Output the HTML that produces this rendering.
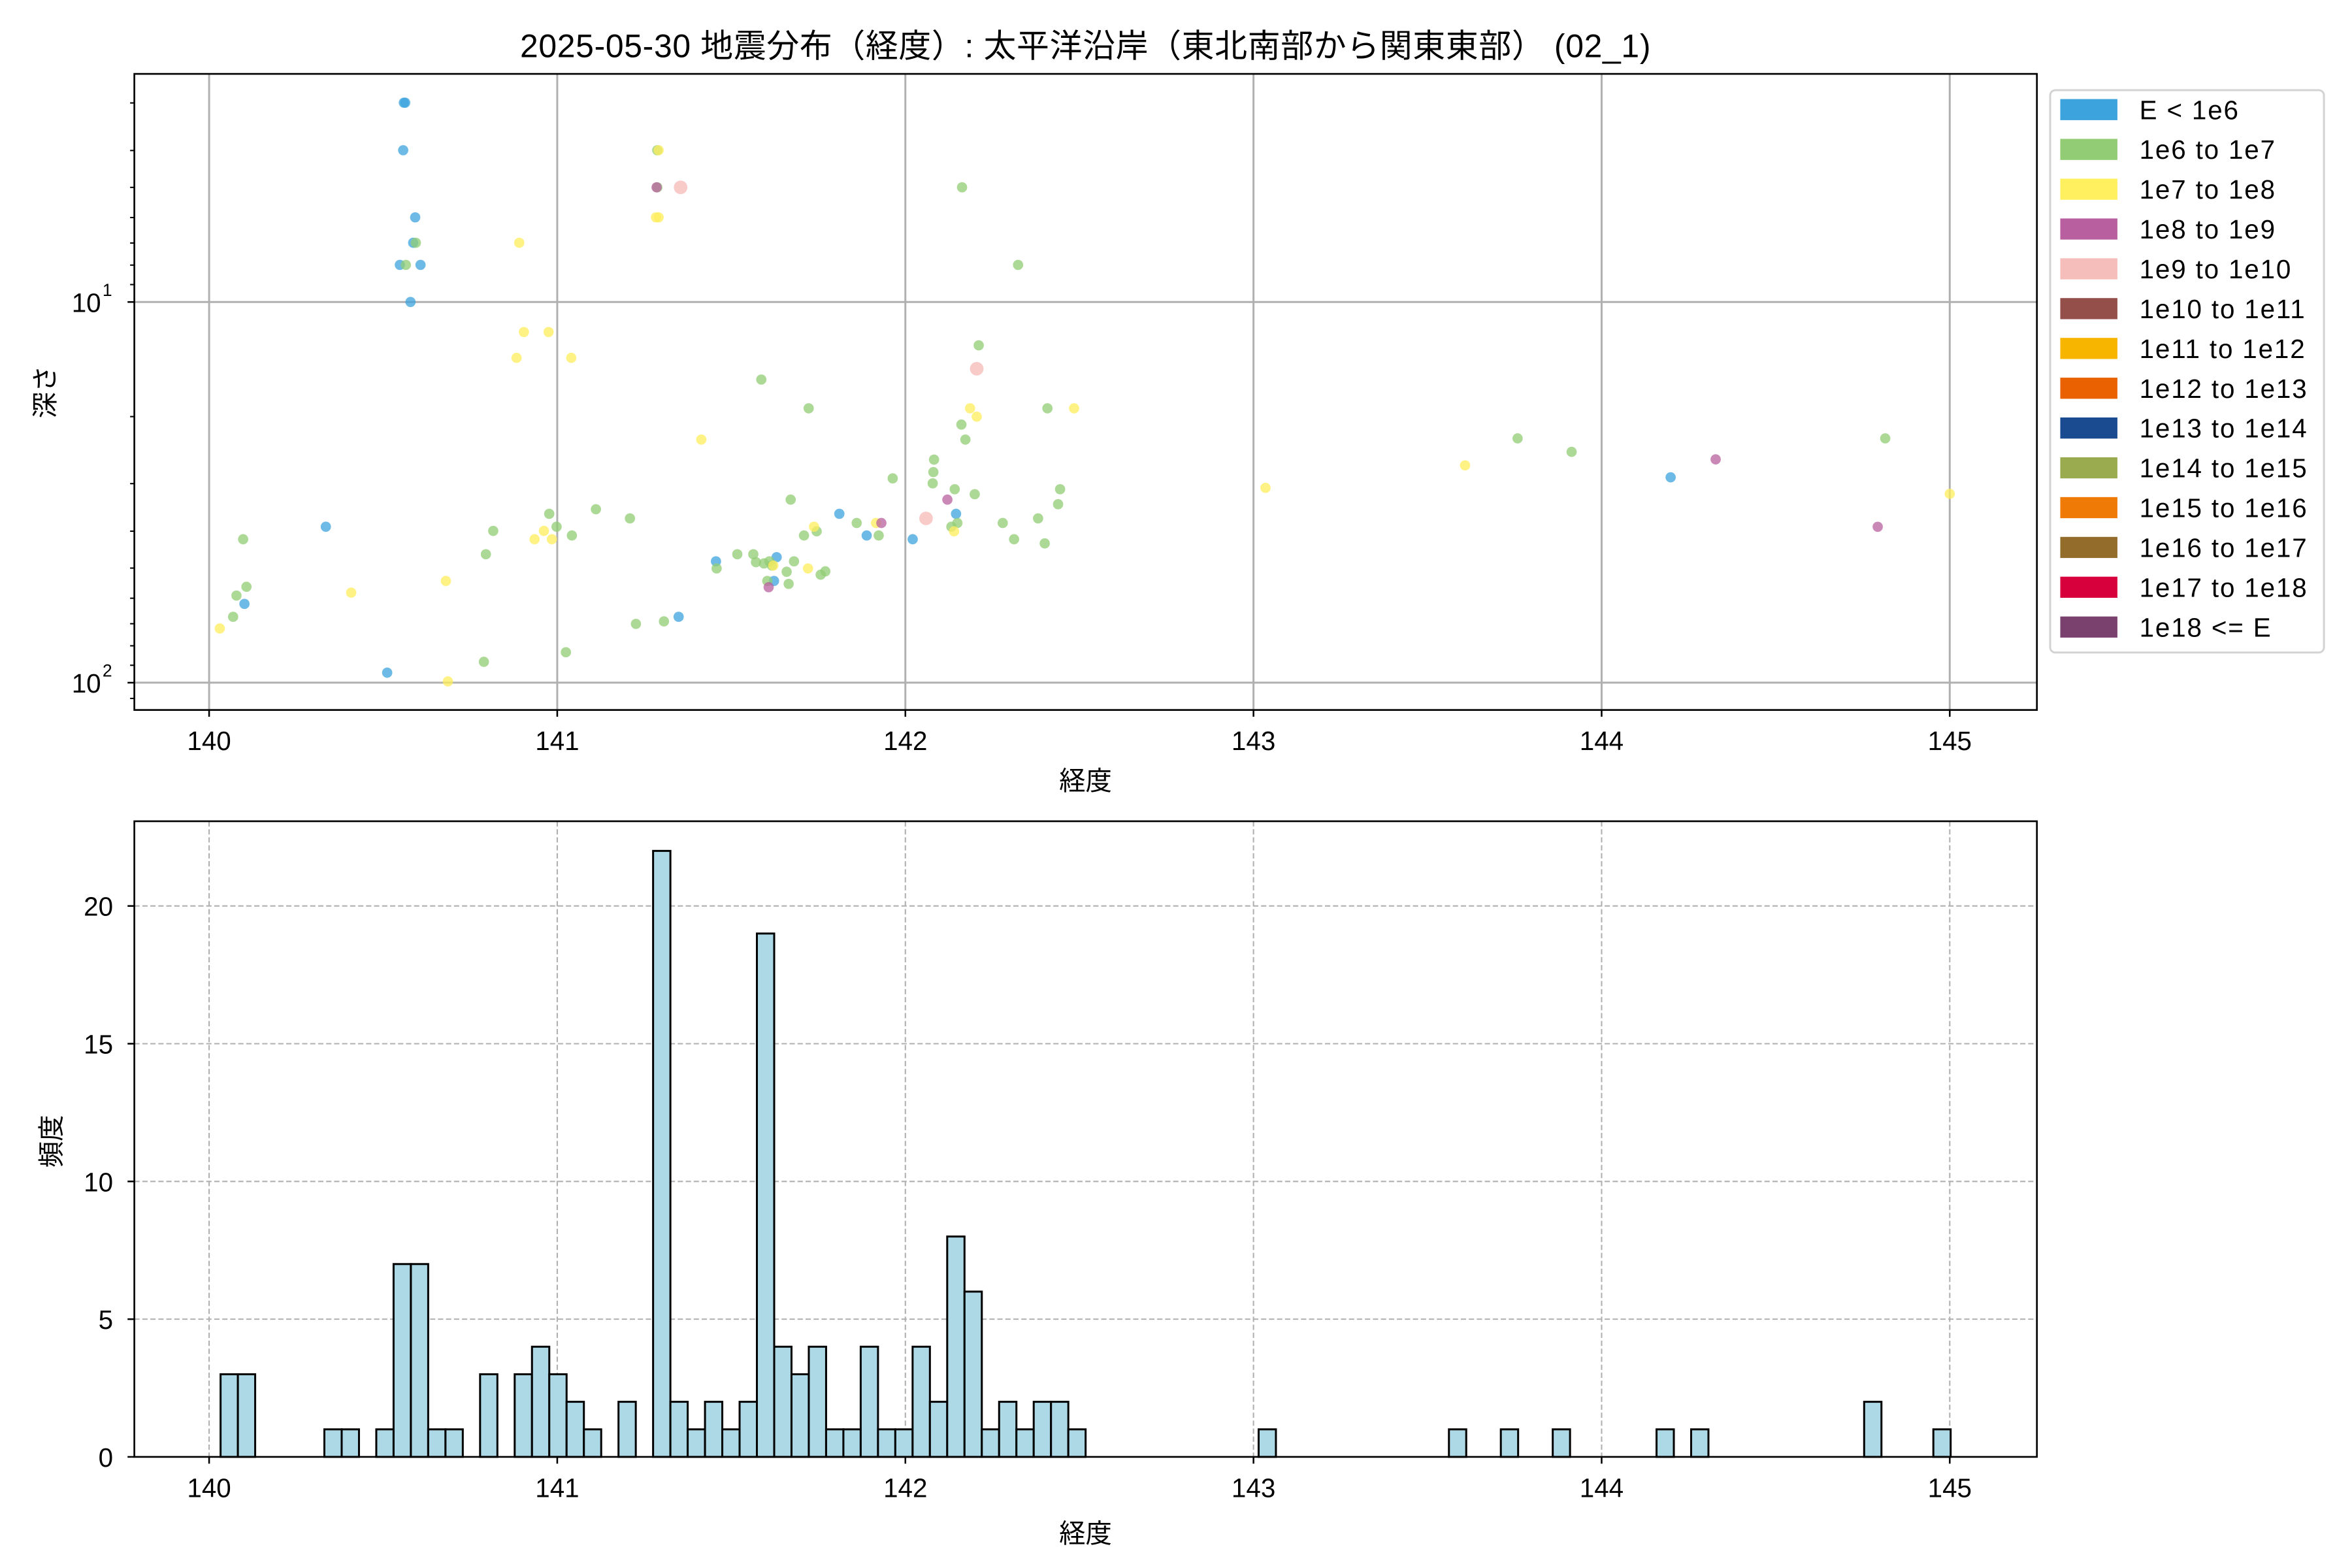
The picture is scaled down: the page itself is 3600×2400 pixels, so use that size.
<!DOCTYPE html>
<html><head><meta charset="utf-8"><style>
html,body{margin:0;padding:0;background:#fff}
svg{display:block}
text{font-family:"Liberation Sans","Noto Sans CJK JP",sans-serif;fill:#000}
</style></head><body>
<svg id="s" xmlns="http://www.w3.org/2000/svg" width="3600" height="2400" viewBox="0 0 1560 1040">
<rect width="1560" height="1040" fill="#fff"/>
<text x="720" y="38" font-size="21.6" text-anchor="middle" letter-spacing="0.3">2025-05-30 地震分布（経度）: 太平洋沿岸（東北南部から関東東部） (02_1)</text>
<g id="top"></g>
<g id="pts"></g>
<g id="bot"></g>
<g id="leg"></g>
</svg>
<script>
const NS="http://www.w3.org/2000/svg";
function el(p,t,a,txt){const e=document.createElementNS(NS,t);for(const k in a)e.setAttribute(k,a[k]);if(txt!==undefined)e.textContent=txt;document.getElementById(p).appendChild(e);return e;}
const X0=138.7,PX=230.9;
const L=89.1,R=1351,T1=49,B1=470.9;
const FS=17.5;
for(let i=0;i<=5;i++){const x=X0+PX*i;el("top","line",{x1:x,x2:x,y1:T1,y2:B1,stroke:"#b0b0b0","stroke-width":1.3});
 el("top","line",{x1:x,x2:x,y1:B1,y2:B1+4.5,stroke:"#000","stroke-width":1.1});
 el("top","text",{x:x,y:497.5,"font-size":FS,"text-anchor":"middle"},String(140+i));}
const D10=200.3,DEC=252.5;
function yd(d){return D10+DEC*Math.log10(d/10);}
[10,100].forEach(d=>{const y=yd(d);el("top","line",{x1:L,x2:R,y1:y,y2:y,stroke:"#b0b0b0","stroke-width":1.3});
 el("top","line",{x1:L-4.5,x2:L,y1:y,y2:y,stroke:"#000","stroke-width":1.1});});
el("top","text",{x:67,y:yd(10)+6.6,"font-size":FS,"text-anchor":"end"},"10");el("top","text",{x:68,y:yd(10)-4,"font-size":11.5},"1");
el("top","text",{x:67,y:yd(100)+6.6,"font-size":FS,"text-anchor":"end"},"10");el("top","text",{x:68,y:yd(100)-4,"font-size":11.5},"2");
[3,4,5,6,7,8,9,20,30,40,50,60,70,80,90,110].forEach(d=>{const y=yd(d);if(y>T1&&y<B1)el("top","line",{x1:L-2.8,x2:L,y1:y,y2:y,stroke:"#000","stroke-width":0.9});});
el("top","rect",{x:L,y:T1,width:R-L,height:B1-T1,fill:"none",stroke:"#000","stroke-width":1.15});
el("top","text",{x:720,y:524,"font-size":FS,"text-anchor":"middle"},"経度");
el("top","text",{x:36,y:260,"font-size":FS,"text-anchor":"middle",transform:"rotate(-90 36 260)"},"深さ");
// points
const C={B:"#3ca3dd",G:"#92cc74",Y:"#ffee5c",P:"#b8609f",K:"#f5b8b5"};
const Z={B:[[410,90],[412,90],[409,204],[427,365],[424,426],[404,479],[435,479],[420,568],[293,1107],[171,1292],[385,1457],[822,1323],[878,1190],[969,1180],[965,1237],[1063,1076],[1104,1128],[1173,1137],[1238,1076]],
G:[[790,204],[790,293],[1247,293],[428,426],[413,479],[1331,479],[1272,672],[946,754],[1017,823],[1375,823],[1246,862],[1252,898],[1205,946],[1204,976],[1143,991],[1203,1003],[1236,1017],[1266,1029],[1394,1017],[990,1042],[628,1076],[698,1065],[749,1087],[639,1107],[544,1117],[662,1128],[169,1137],[1089,1098],[1029,1118],[1010,1128],[1122,1128],[1240,1098],[1231,1107],[1308,1098],[1361,1087],[1391,1053],[1325,1137],[1371,1147],[533,1173],[910,1173],[934,1173],[938,1192],[950,1195],[958,1190],[962,1200],[995,1190],[879,1207],[984,1215],[1042,1214],[1035,1222],[955,1237],[987,1244],[174,1251],[159,1272],[154,1323],[758,1340],[800,1334],[653,1408],[530,1431]],
Y:[[792,204],[792,365],[788,365],[583,426],[590,640],[627,640],[579,702],[661,702],[856,898],[1259,823],[1269,843],[1415,823],[1025,1107],[1118,1098],[1235,1118],[620,1117],[606,1137],[632,1137],[964,1200],[1016,1207],[473,1237],[331,1265],[134,1351],[476,1478]],
P:[[1225,1042],[1126,1098],[957,1252],[789,293]],
K:[[825,293],[1269,728],[1193,1087]]};
["B","G","Y","K","P"].forEach(k=>Z[k].forEach(p=>{const x=X0+(p[0]-118)*PX/522,y=D10+(p[1]-568)*DEC/913;
 el("pts","circle",{cx:x,cy:y,r:k=="K"?4.5:3.4,fill:C[k],"fill-opacity":0.75});}));
[[843,325,"Y"],[976,310,"Y"],[1011,292,"G"],[1047,301,"G"],[1113,318,"B"],[1143,306,"P"],[1251,351,"P"],[1256,292,"G"],[1299,329,"Y"]].forEach(p=>{
 const x=X0+PX*(p[0]-139)/232,y=D10+DEC*(p[1]-201)/254;
 el("pts","circle",{cx:x,cy:y,r:3.4,fill:C[p[2]],"fill-opacity":0.75});});
// bottom hist
const T2=544.7,B2=966.3,UY=18.27;
for(let i=0;i<=5;i++){const x=X0+PX*i;el("bot","line",{x1:x,x2:x,y1:T2,y2:B2,stroke:"#b0b0b0","stroke-width":0.9,"stroke-dasharray":"3.5,1.8"});
 el("bot","line",{x1:x,x2:x,y1:B2,y2:B2+4.5,stroke:"#000","stroke-width":1.1});
 el("bot","text",{x:x,y:993,"font-size":FS,"text-anchor":"middle"},String(140+i));}
for(let v=0;v<=20;v+=5){const y=B2-UY*v;el("bot","line",{x1:L,x2:R,y1:y,y2:y,stroke:"#b0b0b0","stroke-width":0.9,"stroke-dasharray":"3.5,1.8"});
 el("bot","line",{x1:L-4.5,x2:L,y1:y,y2:y,stroke:"#000","stroke-width":1.1});
 el("bot","text",{x:75,y:y+6.5,"font-size":FS,"text-anchor":"end"},String(v));}
const H={0:3,1:3,6:1,7:1,9:1,10:7,11:7,12:1,13:1,15:3,17:3,18:4,19:3,20:2,21:1,23:2,25:22,26:2,27:1,28:2,29:1,30:2,31:19,32:4,33:3,34:4,35:1,36:1,37:4,38:1,39:1,40:4,41:2,42:8,43:6,44:1,45:2,46:1,47:2,48:2,49:1,60:1,71:1,74:1,77:1,83:1,85:1,95:2,99:1};
const BW=11.475,BX=146.3;
for(const k in H){const x=BX+BW*k,h=H[k]*UY;el("bot","rect",{x:x,y:B2-h,width:BW,height:h,fill:"#add8e6",stroke:"#000","stroke-width":1.3});}
el("bot","rect",{x:L,y:T2,width:R-L,height:B2-T2,fill:"none",stroke:"#000","stroke-width":1.15});
el("bot","text",{x:720,y:1023,"font-size":FS,"text-anchor":"middle"},"経度");
el("bot","text",{x:40,y:757,"font-size":FS,"text-anchor":"middle",transform:"rotate(-90 40 757)"},"頻度");
// legend
el("leg","rect",{x:1359.8,y:59.8,width:181.6,height:373,rx:3.5,fill:"#fff",stroke:"#d3d3d3","stroke-width":1.3});
const LG=[["E < 1e6","#3ca3dd"],["1e6 to 1e7","#92cc74"],["1e7 to 1e8","#fff060"],["1e8 to 1e9","#b8609f"],["1e9 to 1e10","#f5bebb"],["1e10 to 1e11","#944f4a"],["1e11 to 1e12","#f7b500"],["1e12 to 1e13","#ea6102"],["1e13 to 1e14","#1a4a8f"],["1e14 to 1e15","#9aab4f"],["1e15 to 1e16","#f07a06"],["1e16 to 1e17","#936c2c"],["1e17 to 1e18","#d8003c"],["1e18 <= E","#7a416e"]];
LG.forEach((l,i)=>{const y=72.7+26.4*i;el("leg","rect",{x:1366.5,y:y-7,width:37.9,height:14,fill:l[1]});
 el("leg","text",{x:1419,y:y+6.3,"font-size":17.5,"letter-spacing":0.8},l[0]);});
</script>
</body></html>
